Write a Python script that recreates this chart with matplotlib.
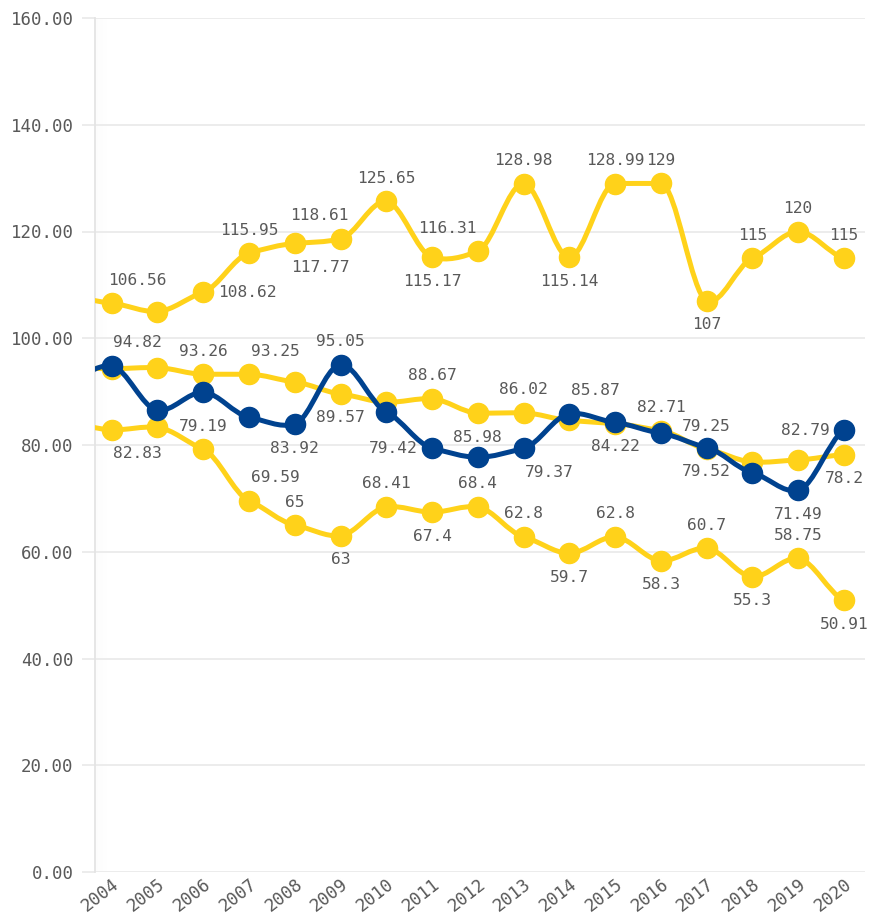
import numpy as np
import matplotlib
matplotlib.use("Agg")
import matplotlib.pyplot as plt
from matplotlib.path import Path
from matplotlib.patches import PathPatch

# ---------------- data ----------------
years = list(range(2003, 2021))
shown_years = years[1:]
series_top = [108.0, 106.56, 105.0, 108.62, 115.95, 117.77, 118.61, 125.65, 115.17,
              116.31, 128.98, 115.14, 128.99, 129, 107, 115, 120, 115]
series_mid = [94.5, 94.3, 94.5, 93.26, 93.25, 91.8, 89.57, 88.0, 88.67,
              85.98, 86.02, 84.6, 84.0, 82.71, 79.25, 76.8, 77.2, 78.2]
series_blue = [91.8, 94.82, 86.5, 89.9, 85.2, 83.92, 95.05, 86.2, 79.42,
               77.7, 79.37, 85.87, 84.22, 82.2, 79.52, 74.8, 71.49, 82.79]
series_low = [84.3, 82.83, 83.3, 79.19, 69.59, 65, 63, 68.41, 67.4,
              68.4, 62.8, 59.7, 62.8, 58.3, 60.7, 55.3, 58.75, 50.91]
y_ticks = [0, 20, 40, 60, 80, 100, 120, 140, 160]

# label placement codes (None = hidden)
place_top = [None, 'ar', None, 'r', 'a', 'br', 'al', 'a', 'b', 'all', 'a', 'b', 'a', 'a', 'b', 'a', 'a', 'a']
place_mid = [None, None, None, 'a', 'ar', None, 'b', None, 'a', 'b', 'a', None, None, 'a', 'a', None, None, 'b']
place_blue = [None, 'ar', None, None, None, 'b', 'a', None, 'l', None, 'br', 'ar', 'b', None, 'b', None, 'b', 'l']
place_low = [None, 'br', None, 'a', 'ar', 'a', 'b', 'a', 'b', 'a', 'a', 'b', 'a', 'b', 'a', 'b', 'a', 'b']

YELLOW = '#FFD21A'
BLUE = '#00428F'
TXT = '#595959'
GRID = '#ebebeb'
FONT = 'DejaVu Sans Mono'

DPI = 100
fig = plt.figure(figsize=(8.69, 9.19), dpi=DPI)
ax = fig.add_axes([95 / 869, 1 - 872 / 919, 770 / 869, (872 - 18) / 919])
ax.set_xlim(2003.635, 2020.46)
ax.set_ylim(0, 160)


def smooth_path(xs, ys, k=0.5):
    xs = np.asarray(xs, float)
    ys = np.asarray(ys, float)
    n = len(xs)
    s = np.diff(ys) / np.diff(xs)
    t = np.zeros(n)
    for i in range(n):
        if i == 0:
            t[i] = k * s[0]
        elif i == n - 1:
            t[i] = k * s[-1]
        else:
            t[i] = k * (ys[i + 1] - ys[i - 1]) / (xs[i + 1] - xs[i - 1])
            lim = 3 * min(abs(s[i - 1]), abs(s[i]))
            t[i] = float(np.clip(t[i], -lim, lim))
    verts = [(xs[0], ys[0])]
    codes = [Path.MOVETO]
    for i in range(n - 1):
        dx = (xs[i + 1] - xs[i]) / 3
        verts += [(xs[i] + dx, ys[i] + dx * t[i]),
                  (xs[i + 1] - dx, ys[i + 1] - dx * t[i + 1]),
                  (xs[i + 1], ys[i + 1])]
        codes += [Path.CURVE4] * 3
    return Path(verts, codes)


offsets = {
    'a': (0, 23, 'center'), 'b': (0, -24, 'center'),
    'ar': (26, 23, 'center'), 'br': (26, -24, 'center'),
    'al': (-21, 23, 'center'), 'all': (-31, 23, 'center'),
    'r': (15, 0, 'left'), 'l': (-14, 0, 'right'),
}
px2pt = 72.0 / DPI


def draw_series(vals, color, places, z):
    patch = PathPatch(smooth_path(years, vals), fill=False, edgecolor=color,
                      lw=3.6, zorder=z, capstyle='round', joinstyle='round')
    ax.add_patch(patch)
    ax.plot(years, vals, 'o', ms=14.5, color=color, mec=color, zorder=z)
    for x, v, p in zip(years, vals, places):
        if p is None:
            continue
        dx, dy, ha = offsets[p]
        ax.annotate(f"{v:g}", (x, v), xytext=(dx * px2pt, dy * px2pt),
                    textcoords='offset points', ha=ha, va='center',
                    fontsize=11.7, family=FONT, color=TXT, zorder=20)


draw_series(series_low, YELLOW, place_low, 3)
draw_series(series_top, YELLOW, place_top, 4)
draw_series(series_mid, YELLOW, place_mid, 5)
draw_series(series_blue, BLUE, place_blue, 6)

# grid and axes styling
ax.set_yticks(y_ticks)
ax.set_yticklabels([f"{v:.2f}" for v in y_ticks], family=FONT, fontsize=12.5, color=TXT)
ax.yaxis.grid(True, color=GRID, lw=1.3, zorder=0)
ax.set_axisbelow(True)
ax.tick_params(axis='y', length=9.5, width=1.3, color=GRID, pad=6)

ax.set_xticks(shown_years)
ax.set_xticklabels([str(y) for y in shown_years], family=FONT, fontsize=12.5, color=TXT,
                   rotation=38, ha='right', va='top', rotation_mode='anchor')
ax.tick_params(axis='x', length=0, pad=2)

for sp in ['top', 'right', 'bottom']:
    ax.spines[sp].set_visible(False)
ax.spines['left'].set_color('#e4e4e4')
ax.spines['left'].set_linewidth(1.3)

# subtle scroll shadow at the left edge
x0 = 2003.635
w = 0.03
for i in range(10):
    ax.axvspan(x0 + i * w, x0 + (i + 1) * w, color='black', alpha=0.012 * (10 - i) / 10,
               lw=0, zorder=0.5)

fig.savefig("out.png", dpi=DPI, facecolor='white')
